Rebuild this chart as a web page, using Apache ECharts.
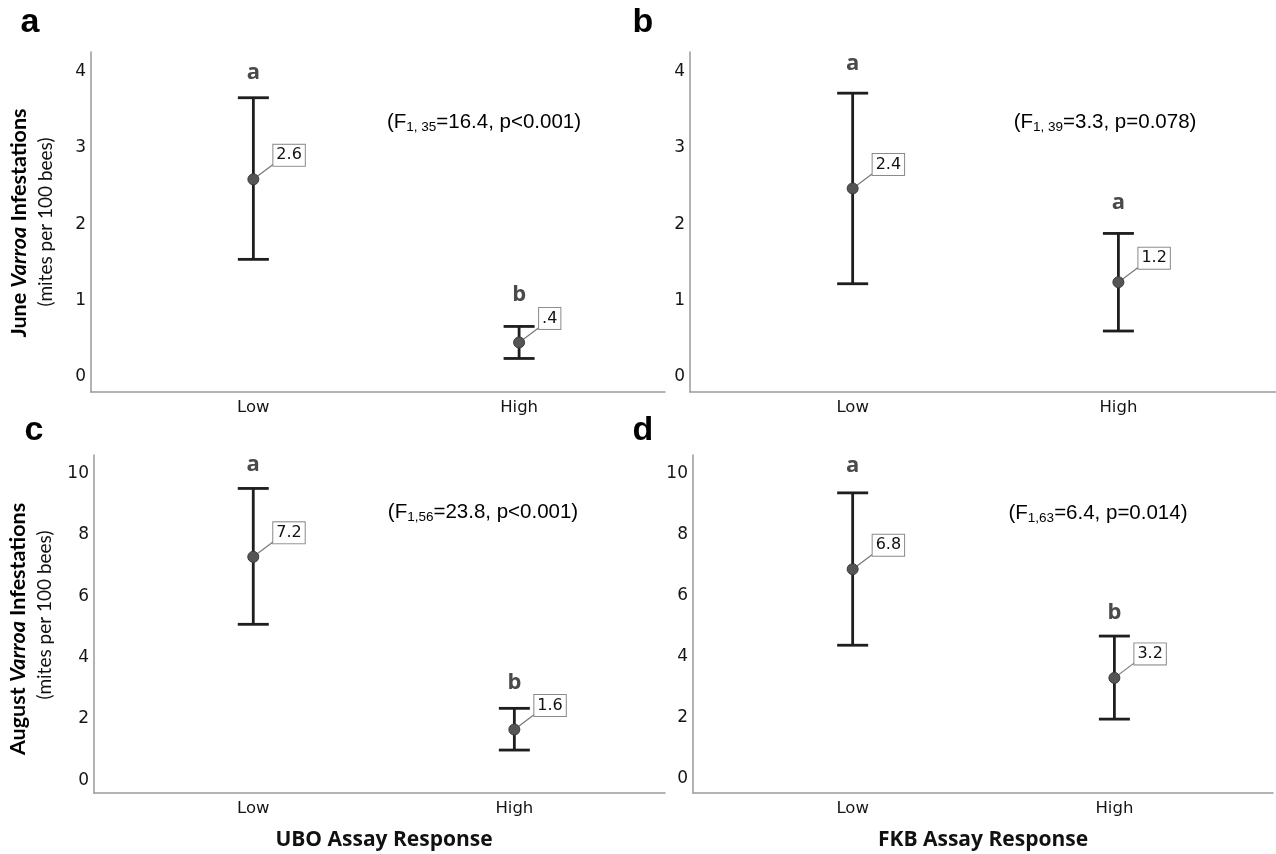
<!DOCTYPE html>
<html>
<head>
<meta charset="utf-8">
<script src="https://cdn.jsdelivr.net/npm/echarts@6/dist/echarts.min.js"></script>
<style>
html,body{margin:0;padding:0;background:#fff;}
#chart{width:1276px;height:854px;}
</style>
</head>
<body>
<div id="chart"></div>
<script>
// ---------- data ----------
const categories = ['Low', 'High'];

// panel a: June, UBO
const meanA = [2.59, 0.45];
const lowA = [1.54, 0.24];
const highA = [3.66, 0.66];
const labelA = ['2.6', '.4'];
const letterA = ['a', 'b'];
const letterPosA = [3.99, 1.08];

// panel b: June, FKB
const meanB = [2.47, 1.24];
const lowB = [1.22, 0.60];
const highB = [3.72, 1.88];
const labelB = ['2.4', '1.2'];
const letterB = ['a', 'a'];
const letterPosB = [4.11, 2.28];

// panel c: August, UBO
const meanC = [7.28, 1.65];
const lowC = [5.08, 0.98];
const highC = [9.51, 2.34];
const labelC = ['7.2', '1.6'];
const letterC = ['a', 'b'];
const letterPosC = [10.27, 3.16];

// panel d: August, FKB
const meanD = [6.86, 3.30];
const lowD = [4.37, 1.95];
const highD = [9.36, 4.67];
const labelD = ['6.8', '3.2'];
const letterD = ['a', 'b'];
const letterPosD = [10.24, 5.43];

const yTicksJune = [0, 1, 2, 3, 4];
const yTicksAug = [0, 2, 4, 6, 8, 10];

const statA = ['1, 35', '=16.4, p<0.001)'];
const statB = ['1, 39', '=3.3, p=0.078)'];
const statC = ['1,56', '=23.8, p<0.001)'];
const statD = ['1,63', '=6.4, p=0.014)'];

const panelLetters = ['a', 'b', 'c', 'd'];
const yTitleJune = ['June ', 'Varroa', ' Infestations'];
const yTitleAug = ['August ', 'Varroa', ' Infestations'];
const yTitleSub = '(mites per 100 bees)';
const xTitleUBO = 'UBO Assay Response';
const xTitleFKB = 'FKB Assay Response';

// ---------- build ----------
function rows(mean, low, high, letterPos) {
  return categories.map((c, i) => [i, mean[i], low[i], high[i], letterPos[i]]);
}

function makeRender(labels, letters) {
  return function (params, api) {
    const i = params.dataIndex;
    const x = api.value(0);
    const p = api.coord([x, api.value(1)]);
    const pl = api.coord([x, api.value(2)]);
    const ph = api.coord([x, api.value(3)]);
    const pt = api.coord([x, api.value(4)]);
    const cap = 15.5;
    const barStyle = { stroke: '#1e1e1e', lineWidth: 2.8 };
    const bx = p[0] + 20, by = p[1] - 24;
    return {
      type: 'group',
      children: [
        { type: 'line', shape: { x1: p[0], y1: ph[1], x2: p[0], y2: pl[1] }, style: barStyle },
        { type: 'line', shape: { x1: p[0] - cap, y1: ph[1], x2: p[0] + cap, y2: ph[1] }, style: barStyle },
        { type: 'line', shape: { x1: p[0] - cap, y1: pl[1], x2: p[0] + cap, y2: pl[1] }, style: barStyle },
        { type: 'line', shape: { x1: p[0], y1: p[1], x2: bx, y2: by + 9 }, style: { stroke: '#777', lineWidth: 1.2 } },
        { type: 'circle', shape: { cx: p[0], cy: p[1], r: 5.5 }, style: { fill: '#555', stroke: '#3a3a3a', lineWidth: 1 } },
        { type: 'text', style: {
            text: labels[i], x: bx, y: by, align: 'left', verticalAlign: 'middle',
            font: '16px "DejaVu Sans"', fill: '#111',
            backgroundColor: '#fff', borderColor: '#8a8a8a', borderWidth: 1, padding: [3, 3, 2, 3]
          } },
        { type: 'text', style: {
            text: letters[i], x: p[0], y: pt[1], align: 'center', verticalAlign: 'middle',
            font: 'bold 22px "Open Sans"', fill: '#4a4a4a'
          } }
      ]
    };
  };
}

const grids = [
  { left: 91, top: 52, width: 574, height: 340 },
  { left: 690, top: 52, width: 586, height: 340 },
  { left: 94, top: 455, width: 571, height: 338 },
  { left: 693, top: 455, width: 580, height: 338 }
];
const xRanges = [[-0.611, 1.549], [-0.612, 1.593], [-0.610, 1.577], [-0.610, 1.606]];
const yRanges = [[-0.2, 4.26], [-0.2, 4.26], [-0.42, 10.6], [-0.47, 10.6]];
const yTicks = [yTicksJune, yTicksJune, yTicksAug, yTicksAug];

const axisLineStyle = { show: true, onZero: false, lineStyle: { color: '#9a9a9a', width: 1.5 } };

const xAxes = grids.map((g, k) => ({
  type: 'value', gridIndex: k, min: xRanges[k][0], max: xRanges[k][1],
  axisLine: axisLineStyle, axisTick: { show: false }, splitLine: { show: false },
  axisLabel: {
    customValues: categories.map((c, i) => i),
    formatter: v => categories[Math.round(v)],
    margin: 7, color: '#151515', fontSize: 16.5, fontFamily: 'DejaVu Sans'
  }
}));
const yAxes = grids.map((g, k) => ({
  type: 'value', gridIndex: k, min: yRanges[k][0], max: yRanges[k][1],
  axisLine: axisLineStyle, axisTick: { show: false }, splitLine: { show: false },
  axisLabel: {
    customValues: yTicks[k], formatter: v => String(v),
    margin: 5, color: '#151515', fontSize: 17, fontFamily: 'DejaVu Sans'
  }
}));

const panels = [
  [meanA, lowA, highA, letterPosA, labelA, letterA],
  [meanB, lowB, highB, letterPosB, labelB, letterB],
  [meanC, lowC, highC, letterPosC, labelC, letterC],
  [meanD, lowD, highD, letterPosD, labelD, letterD]
];
const series = panels.map((pn, k) => ({
  type: 'custom', xAxisIndex: k, yAxisIndex: k,
  data: rows(pn[0], pn[1], pn[2], pn[3]),
  renderItem: makeRender(pn[4], pn[5]),
  encode: { x: 0, y: [1, 2, 3, 4] },
  silent: true
}));

function statText(s, cx, cy) {
  return {
    type: 'text', x: cx, y: cy,
    style: {
      text: '{n|(F}{s|' + s[0] + '}{n|' + s[1] + '}',
      align: 'center', verticalAlign: 'middle',
      rich: {
        n: { fontSize: 20.5, fontFamily: 'Liberation Sans', color: '#111' },
        s: { fontSize: 13.5, fontFamily: 'Liberation Sans', color: '#111', padding: [11, 0, 0, 0] }
      }
    }
  };
}
function yTitle(parts, cx, cy) {
  return {
    type: 'text', x: cx, y: cy, rotation: Math.PI / 2,
    style: {
      text: '{b|' + parts[0] + '}{i|' + parts[1] + '}{b|' + parts[2] + '}',
      align: 'center', verticalAlign: 'middle',
      rich: {
        b: { fontSize: 21.5, fontWeight: 'bold', fontFamily: 'Lato', color: '#111' },
        i: { fontSize: 21.5, fontWeight: 'bold', fontStyle: 'italic', fontFamily: 'Lato', color: '#111' }
      }
    }
  };
}
function plainText(t, cx, cy, font, color) {
  return { type: 'text', x: cx, y: cy, style: { text: t, align: 'center', verticalAlign: 'middle', font: font, fill: color } };
}

const graphics = [
  plainText(panelLetters[0], 30, 23, 'bold 34px "Liberation Sans"', '#000'),
  plainText(panelLetters[1], 643, 23, 'bold 34px "Liberation Sans"', '#000'),
  plainText(panelLetters[2], 34, 431, 'bold 34px "Liberation Sans"', '#000'),
  plainText(panelLetters[3], 643, 431, 'bold 34px "Liberation Sans"', '#000'),
  statText(statA, 484, 122),
  statText(statB, 1105, 122),
  statText(statC, 483, 512),
  statText(statD, 1098, 513),
  yTitle(yTitleJune, 19, 223),
  plainText(yTitleSub, 46, 222, '19px Lato', '#111'),
  yTitle(yTitleAug, 18, 629),
  plainText(yTitleSub, 45, 615, '19px Lato', '#111'),
  plainText(xTitleUBO, 384, 840, 'bold 21px "Open Sans"', '#111'),
  plainText(xTitleFKB, 983, 840, 'bold 21px "Open Sans"', '#111')
];
graphics[9].rotation = Math.PI / 2;
graphics[11].rotation = Math.PI / 2;

const chart = echarts.init(document.getElementById('chart'), null, { renderer: 'canvas' });
chart.setOption({
  backgroundColor: '#fff',
  animation: false,
  grid: grids,
  xAxis: xAxes,
  yAxis: yAxes,
  series: series,
  graphic: graphics
});
</script>
</body>
</html>
